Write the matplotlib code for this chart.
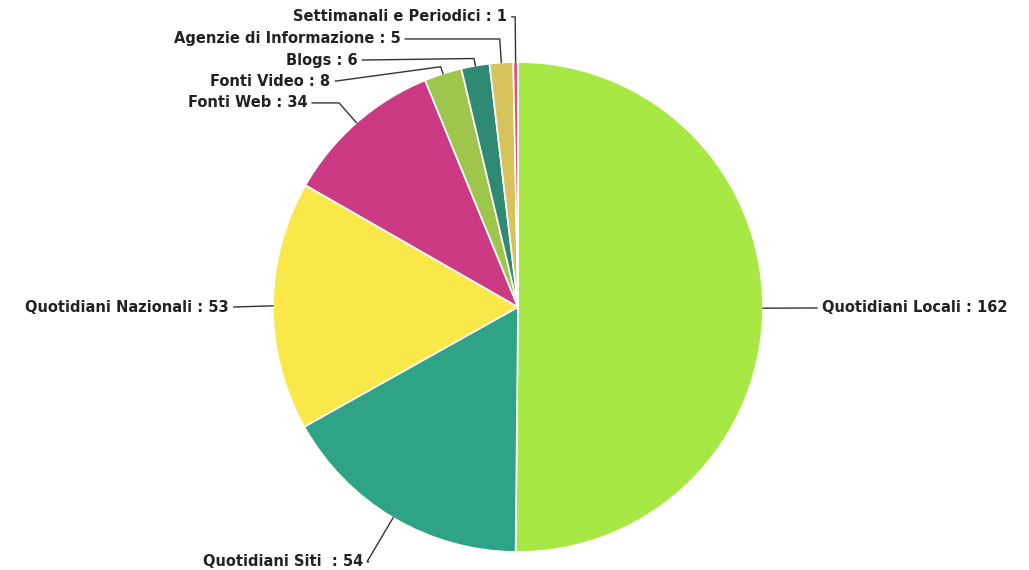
import numpy as np
import matplotlib.pyplot as plt

labels = ["Quotidiani Locali", "Quotidiani Siti ", "Quotidiani Nazionali", "Fonti Web",
          "Fonti Video", "Blogs", "Agenzie di Informazione", "Settimanali e Periodici"]
values = [162, 54, 53, 34, 8, 6, 5, 1]
colors = ["#a8e845", "#2ea386", "#fae84a", "#cd3a84", "#9fc64c", "#2e8a72", "#d6c35c", "#d65a78"]

# label placement (radius units), ha
label_pos = [(1.24, -0.004, "left"), (-0.63, -1.04, "right"), (-1.18, 0.0, "right"),
             (-0.86, 0.833, "right"), (-0.765, 0.922, "right"), (-0.655, 1.008, "right"),
             (-0.48, 1.094, "right"), (-0.045, 1.184, "right")]

W, H = 1029, 570
cx, cy, r = 518, 307, 245
fig = plt.figure(figsize=(W / 100, H / 100), dpi=100)
ax = fig.add_axes([(cx - r) / W, (H - cy - r) / H, 2 * r / W, 2 * r / H])

wedges, _ = ax.pie(values, colors=colors, startangle=90, counterclock=False, radius=1,
                   wedgeprops=dict(edgecolor="white", linewidth=1.2))
ax.set_xlim(-1, 1)
ax.set_ylim(-1, 1)
ax.axis("off")

for w, lab, val, (lx, ly, ha) in zip(wedges, labels, values, label_pos):
    mid = np.deg2rad((w.theta1 + w.theta2) / 2)
    ax_x, ax_y = np.cos(mid), np.sin(mid)
    if abs(ax_y) < 0.2:
        elbow = (ax_x, ax_y)
    else:
        rr = max(1.03, ly / ax_y)
        elbow = (rr * ax_x, rr * ax_y)
    gap = 0.02 if ha == "right" else -0.02
    xs = [lx + gap, elbow[0], ax_x]
    ys = [ly, elbow[1], ax_y]
    ax.plot(xs, ys, color="#333333", lw=1, clip_on=False, solid_joinstyle="round")
    ax.text(lx, ly, f"{lab} : {val}", ha=ha, va="center", fontsize=10.5,
            fontweight="bold", color="#222222", clip_on=False)

fig.savefig("out.png", dpi=100)
